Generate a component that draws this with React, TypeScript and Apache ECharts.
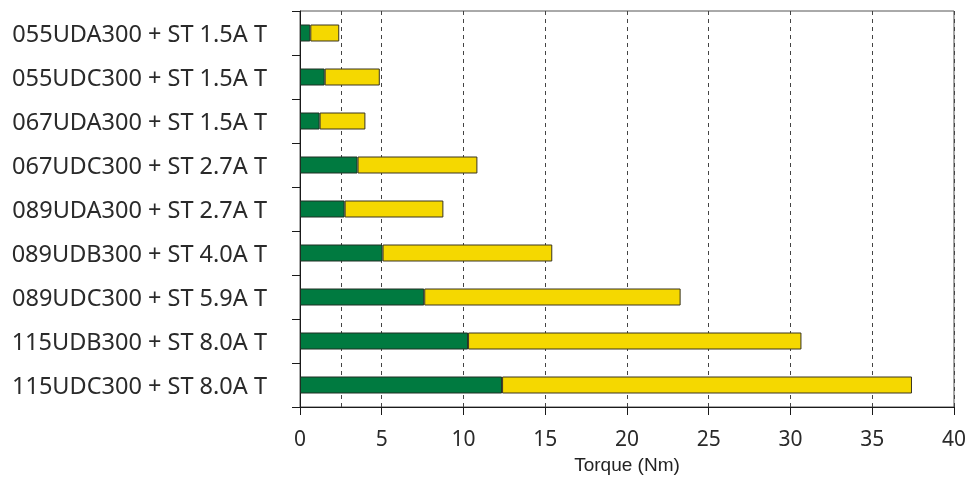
import React, { useEffect, useRef } from "react";
import * as echarts from "echarts";

const categories = [
  "055UDA300 + ST 1.5A T",
  "055UDC300 + ST 1.5A T",
  "067UDA300 + ST 1.5A T",
  "067UDC300 + ST 2.7A T",
  "089UDA300 + ST 2.7A T",
  "089UDB300 + ST 4.0A T",
  "089UDC300 + ST 5.9A T",
  "115UDB300 + ST 8.0A T",
  "115UDC300 + ST 8.0A T",
];
const greenValues = [0.63, 1.51, 1.2, 3.52, 2.73, 5.05, 7.6, 10.28, 12.36];
const totalValues = [2.4, 4.88, 4.0, 10.85, 8.77, 15.43, 23.28, 30.67, 37.43];
const yellowValues = totalValues.map((t, i) => +(t - greenValues[i]).toFixed(2));
const xTicks = [0, 5, 10, 15, 20, 25, 30, 35, 40];
const extraGrid = [2.5];

export default function App() {
  const ref = useRef<HTMLDivElement>(null);
  useEffect(() => {
    const chart = echarts.init(ref.current!, null, { renderer: "svg" });
    chart.setOption({
      animation: false,
      grid: {
        left: 300,
        right: 14,
        top: 11,
        bottom: 71,
        show: true,
        borderColor: "#555",
        borderWidth: 1,
      },
      xAxis: {
        type: "value",
        min: xTicks[0],
        max: xTicks[xTicks.length - 1],
        interval: 5,
        name: "Torque (Nm)",
        nameLocation: "middle",
        nameGap: 48,
        nameTextStyle: { fontFamily: "Liberation Sans", fontSize: 19, color: "#222" },
        axisLine: { show: true, lineStyle: { color: "#1a1a1a", width: 1 } },
        axisTick: { show: true, length: 8, lineStyle: { color: "#1a1a1a" } },
        axisLabel: {
          margin: 20,
          fontFamily: "Noto Sans",
          fontSize: 21,
          color: "#2a2a2a",
        },
        splitLine: {
          show: true,
          lineStyle: { color: "#444", type: [4, 4], width: 1 },
        },
      },
      yAxis: {
        type: "category",
        data: categories,
        inverse: true,
        axisLine: { show: true, lineStyle: { color: "#1a1a1a", width: 1 } },
        axisTick: { show: true, length: 8, lineStyle: { color: "#1a1a1a" } },
        axisLabel: {
          margin: 33,
          fontFamily: "Noto Sans",
          fontSize: 23.5,
          color: "#2a2a2a",
        },
        splitLine: { show: false },
      },
      series: [
        {
          name: "green",
          type: "bar",
          stack: "t",
          data: greenValues,
          barWidth: 17,
          itemStyle: { color: "#007A40", borderColor: "#1e2e22", borderWidth: 1 },
          markLine: {
            silent: true,
            symbol: "none",
            label: { show: false },
            lineStyle: { color: "#444", type: [4, 4], width: 1 },
            data: extraGrid.map((v) => ({ xAxis: v })),
            z: 0,
          },
          z: 3,
        },
        {
          name: "yellow",
          type: "bar",
          stack: "t",
          data: yellowValues,
          barWidth: 17,
          itemStyle: { color: "#F5D800", borderColor: "#3a3520", borderWidth: 1 },
          z: 3,
        },
      ],
    });
    return () => chart.dispose();
  }, []);
  return (
    <div
      ref={ref}
      style={{ position: "fixed", left: 0, top: 0, width: 969, height: 479 }}
    />
  );
}
